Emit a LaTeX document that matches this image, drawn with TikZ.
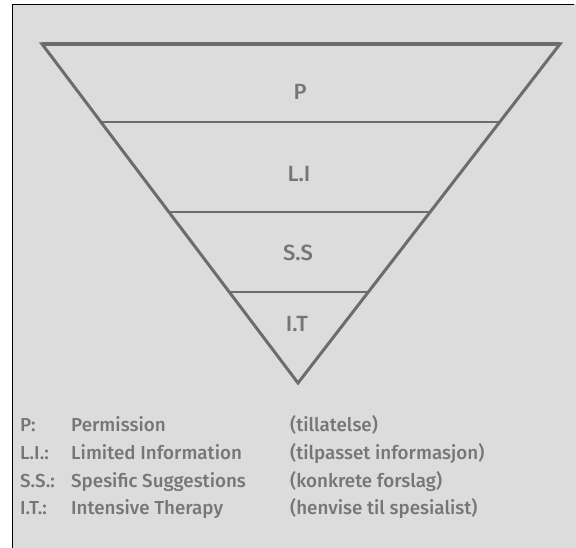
\documentclass[tikz,border=0pt]{standalone}
\usepackage{fontspec}
\setmainfont{Fira Sans Medium}
\usetikzlibrary{calc}
\usepackage{xcolor}
\definecolor{paperGrey}{RGB}{220,220,220}
\definecolor{lineGrey}{RGB}{108,108,108}
\definecolor{textGrey}{RGB}{118,118,118}

\tikzset{
  level/.style={text=textGrey, font=\fontsize{22}{26}\selectfont, anchor=base},
  legend/.style={text=textGrey, font=\fontsize{18.8}{22}\selectfont, anchor=base west, inner sep=0pt},
}

\begin{document}
\begin{tikzpicture}[x=1pt, y=-1pt]
  \useasboundingbox (0,0) rectangle (576,548);
  \fill[paperGrey] (12,4) rectangle (576,548);
  \draw[black, line width=1.6pt] (12.5,548) -- (12.5,4.5) -- (574,4.5);

  % the pyramid, upside down
  \coordinate (tl) at (42,44);
  \coordinate (tr) at (560,44);
  \coordinate (apex) at (298,383);
  \draw[lineGrey, line width=3pt, line join=miter] (tl) -- (tr) -- (apex) -- cycle;
  \draw[lineGrey, line width=4.5pt] (tl) -- (tr);

  \foreach \t/\name in {0.230/a, 0.4956/b, 0.7316/c}
  {
    \coordinate (l\name) at ($(tl)!\t!(apex)$);
    \coordinate (r\name) at ($(tr)!\t!(apex)$);
    \draw[lineGrey, line width=1.3pt] (l\name) -- (r\name);
  }

  \node[level] (p)  at (300,100) {P};
  \node[level] (li) at (299,182) {L.I};
  \node[level] (ss) at (298,261) {S.S};
  \node[level] (it) at (297,331) {I.T};

  % legend
  \foreach \y/\abbr/\term/\norsk in {431/P:/Permission/(tillatelse),
                                     459/L.I.:/Limited Information/(tilpasset informasjon),
                                     487/S.S.:/Spesific Suggestions/(konkrete forslag),
                                     514/I.T.:/Intensive Therapy/(henvise til spesialist)}
  {
    \node[legend] at (20,\y) {\abbr};
    \node[legend] at (71,\y) {\term};
    \node[legend] at (290,\y) {\norsk};
  }
\end{tikzpicture}
\end{document}
